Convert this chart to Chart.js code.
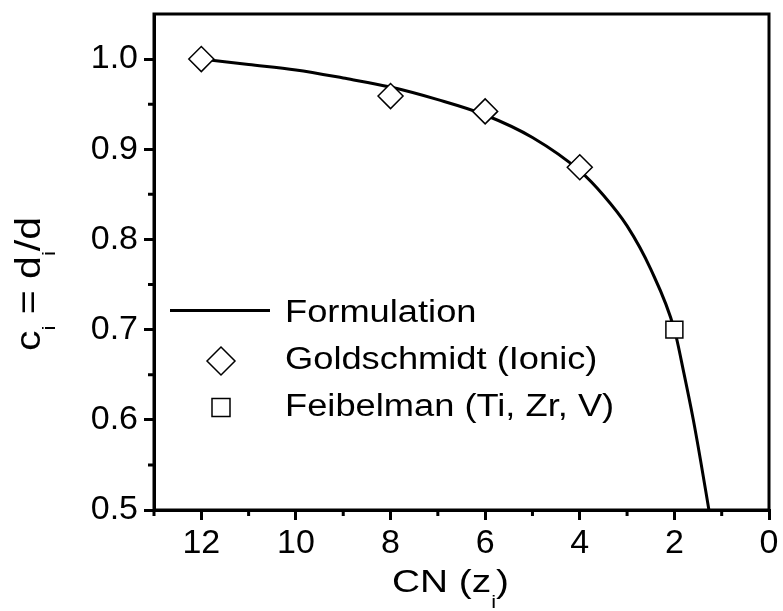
<!DOCTYPE html>
<html><head><meta charset="utf-8">
<script src="https://cdn.jsdelivr.net/npm/chart.js@4.4.0/dist/chart.umd.min.js"></script>
<style>html,body{margin:0;padding:0;background:#fff;}#wrap{width:783px;height:611px;}</style>
</head><body><div id="wrap"><canvas id="c" width="783" height="611"></canvas></div>
<script>
// Values
const cnFormulation = [12, 11, 10, 9, 8, 7, 6, 5, 4, 3.5, 3, 2.5, 2, 1.8, 1.6, 1.45, 1.27];
const ciFormulation = [1.000, 0.994, 0.988, 0.979, 0.969, 0.955, 0.938, 0.913, 0.876, 0.849, 0.815, 0.767, 0.700, 0.652, 0.600, 0.556, 0.500];
const cnGoldschmidt = [12, 8, 6, 4];
const ciGoldschmidt = [1.000, 0.959, 0.942, 0.880];
const cnFeibelman = [2];
const ciFeibelman = [0.700];
const seriesLabels = ['Formulation', 'Goldschmidt (Ionic)', 'Feibelman (Ti, Zr, V)'];
const xTickValues = [12, 10, 8, 6, 4, 2, 0];
const xTickLabels = ['12', '10', '8', '6', '4', '2', '0'];
const xMinorTicks = [13, 11, 9, 7, 5, 3, 1];
const yTickValues = [0.5, 0.6, 0.7, 0.8, 0.9, 1.0];
const yTickLabels = ['0.5', '0.6', '0.7', '0.8', '0.9', '1.0'];
const yMinorTicks = [0.55, 0.65, 0.75, 0.85, 0.95];

const pts = (xs, ys) => xs.map((x, i) => ({x: x, y: ys[i]}));
const FONT = 'Liberation Sans, Arial, sans-serif';

function drawRich(ctx, parts, size, subSize, subDrop) {
  let cx = 0;
  for (const p of parts) {
    ctx.font = (p.sub ? subSize : size) + 'px ' + FONT;
    ctx.fillText(p.t, cx, p.sub ? subDrop : 0);
    cx += ctx.measureText(p.t).width;
  }
  return cx;
}
function richWidth(ctx, parts, size, subSize) {
  let w = 0;
  for (const p of parts) { ctx.font = (p.sub ? subSize : size) + 'px ' + FONT; w += ctx.measureText(p.t).width; }
  return w;
}
function diamond(ctx, x, y, r) {
  ctx.beginPath(); ctx.moveTo(x - r, y); ctx.lineTo(x, y - r); ctx.lineTo(x + r, y); ctx.lineTo(x, y + r); ctx.closePath();
  ctx.fillStyle = '#fff'; ctx.fill(); ctx.lineWidth = 1.5; ctx.strokeStyle = '#000'; ctx.stroke();
}
function square(ctx, x, y, h) {
  ctx.beginPath(); ctx.rect(x - h, y - h, 2 * h, 2 * h);
  ctx.fillStyle = '#fff'; ctx.fill(); ctx.lineWidth = 1.5; ctx.strokeStyle = '#000'; ctx.stroke();
}

const decor = {
  id: 'decor',
  afterDraw(chart) {
    const ctx = chart.ctx, a = chart.chartArea, xs = chart.scales.x, ys = chart.scales.y;
    ctx.save();
    // frame
    ctx.strokeStyle = '#000'; ctx.lineWidth = 3;
    ctx.strokeRect(a.left, a.top, a.right - a.left, a.bottom - a.top);
    // minor ticks
    ctx.beginPath();
    for (const v of xMinorTicks) { const px = xs.getPixelForValue(v); ctx.moveTo(px, a.bottom); ctx.lineTo(px, a.bottom + 6); }
    for (const v of yMinorTicks) { const py = ys.getPixelForValue(v); ctx.moveTo(a.left, py); ctx.lineTo(a.left - 6, py); }
    ctx.stroke();
    ctx.fillStyle = '#000'; ctx.textBaseline = 'alphabetic'; ctx.textAlign = 'left';
    // x title
    const xt = [{t: 'CN (z'}, {t: 'i', sub: true}, {t: ')'}];
    let w = richWidth(ctx, xt, 32, 18);
    ctx.save(); ctx.translate(392, 592); ctx.scale(117 / w, 1);
    drawRich(ctx, xt, 32, 18, 16); ctx.restore();
    // y title
    const yt = [{t: 'c'}, {t: 'i', sub: true}, {t: ' = d'}, {t: 'i', sub: true}, {t: '/d'}];
    w = richWidth(ctx, yt, 35, 19);
    ctx.save(); ctx.translate(40, 351); ctx.rotate(-Math.PI / 2); ctx.scale(134 / w, 1);
    drawRich(ctx, yt, 35, 19, 15); ctx.restore();
    // legend
    const ds = chart.data.datasets;
    ctx.beginPath(); ctx.moveTo(170, 310.5); ctx.lineTo(270, 310.5); ctx.lineWidth = 3; ctx.strokeStyle = '#000'; ctx.stroke();
    diamond(ctx, 221, 361, 14);
    square(ctx, 221, 407.5, 9);
    ctx.fillStyle = '#000';
    const rows = [[ds[0].label, 322], [ds[1].label, 369], [ds[2].label, 416]];
    for (const [t, by] of rows) {
      ctx.save(); ctx.translate(285, by); ctx.scale(1.17, 1);
      ctx.font = '31px ' + FONT; ctx.fillText(t, 0, 0); ctx.restore();
    }
    ctx.restore();
  }
};

new Chart(document.getElementById('c'), {
  type: 'line',
  data: {
    datasets: [
      {label: seriesLabels[0], data: pts(cnFormulation, ciFormulation), borderColor: '#000', borderWidth: 3,
       pointRadius: 0, cubicInterpolationMode: 'monotone', fill: false, order: 3},
      {label: seriesLabels[1], data: pts(cnGoldschmidt, ciGoldschmidt), showLine: false, pointStyle: 'rectRot',
       pointRadius: 12.5, pointBorderWidth: 1.5, pointBackgroundColor: '#fff', pointBorderColor: '#000', order: 1},
      {label: seriesLabels[2], data: pts(cnFeibelman, ciFeibelman), showLine: false, pointStyle: 'rect',
       pointRadius: 12, pointBorderWidth: 1.5, pointBackgroundColor: '#fff', pointBorderColor: '#000', order: 2}
    ]
  },
  options: {
    responsive: false, animation: false, devicePixelRatio: 1,
    layout: {padding: {top: 14, right: 13, left: 0, bottom: 0}},
    plugins: {legend: {display: false}, tooltip: {enabled: false}},
    scales: {
      x: {type: 'linear', min: 0, max: 13, reverse: true,
          afterBuildTicks: s => { s.ticks = xTickValues.map(v => ({value: v})); },
          afterFit: s => { s.height = 101; s.paddingLeft = 0; s.paddingRight = 0; },
          ticks: {autoSkip: false, maxRotation: 0, padding: 3, color: '#000', font: {family: FONT, size: 34},
                  callback: (v, i) => xTickLabels[i]},
          grid: {drawOnChartArea: false, drawTicks: true, tickLength: 10, lineWidth: 3, color: '#000'},
          border: {display: true, width: 3, color: '#000'}},
      y: {type: 'linear', min: 0.5, max: 1.05,
          afterBuildTicks: s => { s.ticks = yTickValues.map(v => ({value: v})); },
          afterFit: s => { s.width = 154; s.paddingTop = 0; s.paddingBottom = 0; },
          ticks: {autoSkip: false, padding: 6, color: '#000', font: {family: FONT, size: 34},
                  callback: (v, i) => yTickLabels[i]},
          grid: {drawOnChartArea: false, drawTicks: true, tickLength: 10, lineWidth: 3, color: '#000'},
          border: {display: true, width: 3, color: '#000'}}
    }
  },
  plugins: [decor]
});
</script></body></html>
